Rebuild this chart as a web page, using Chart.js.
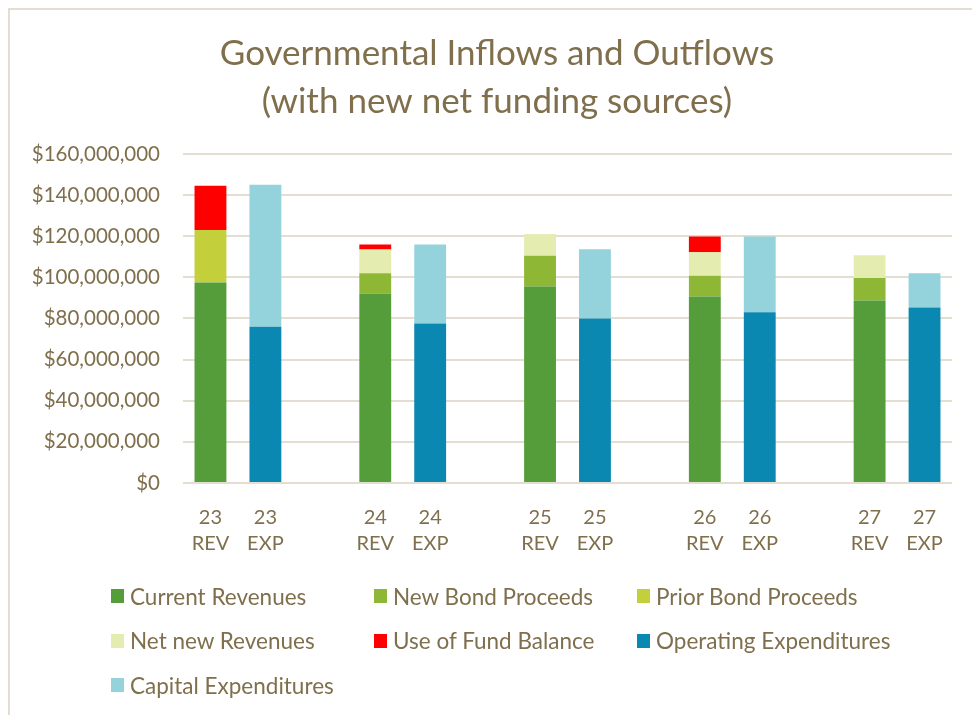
<!DOCTYPE html>
<html>
<head>
<meta charset="utf-8">
<title>Governmental Inflows and Outflows</title>
<script src="https://cdn.jsdelivr.net/npm/chart.js@4.4.1/dist/chart.umd.min.js"></script>
<style>
  html, body { margin: 0; padding: 0; background: #fff; overflow: hidden; }
  #wrap { position: relative; width: 972px; height: 715px; }
  #frame {
    position: absolute; left: 8px; top: 8px; width: 1000px; height: 800px;
    border-left: 2px solid #e3ded1; border-top: 2px solid #e3ded1;
  }
  #chart { position: absolute; left: 0; top: 0; }
  #legend {
    position: absolute; left: 111px; top: 574px;
    display: grid; grid-template-columns: 263px 263px 263px; grid-auto-rows: 44.5px;
    font-family: Lato, sans-serif; font-size: 22.5px; color: #7f6f4c;
  }
  #legend .item { display: flex; align-items: center; white-space: nowrap; }
  #legend .box { width: 13px; height: 14px; margin-right: 6px; flex: none; }
</style>
</head>
<body>
<div id="wrap">
  <div id="frame"></div>
  <canvas id="chart" width="972" height="715"></canvas>
  <div id="legend"></div>
</div>
<script>
// categorias (vazias = espaço entre os anos)
const categories = ['23 REV', '23 EXP', '', '24 REV', '24 EXP', '', '25 REV', '25 EXP', '', '26 REV', '26 EXP', '', '27 REV', '27 EXP'];

// valores (dólares)
const currentRevenues    = [97500000, null, null, 92000000, null, null, 95500000, null, null, 90700000, null, null, 88700000, null];
const newBondProceeds    = [0, null, null, 10000000, null, null, 15000000, null, null, 10000000, null, null, 11000000, null];
const priorBondProceeds  = [25500000, null, null, 0, null, null, 0, null, null, 0, null, null, 0, null];
const netNewRevenues     = [0, null, null, 11500000, null, null, 10500000, null, null, 11500000, null, null, 11000000, null];
const useOfFundBalance   = [21500000, null, null, 2500000, null, null, 0, null, null, 7700000, null, null, 0, null];
const operatingExpend    = [null, 76000000, null, null, 77500000, null, null, 80000000, null, null, 83000000, null, null, 85300000];
const capitalExpend      = [null, 69000000, null, null, 38500000, null, null, 33700000, null, null, 36800000, null, null, 16700000];

const yTicks = [0, 20000000, 40000000, 60000000, 80000000, 100000000, 120000000, 140000000, 160000000];

const textColor = '#7f6f4c';
const gridColor = '#e3ded1';

const series = [
  { label: 'Current Revenues', data: currentRevenues, color: '#559d3a' },
  { label: 'New Bond Proceeds', data: newBondProceeds, color: '#8db735' },
  { label: 'Prior Bond Proceeds', data: priorBondProceeds, color: '#c3cf3b' },
  { label: 'Net new Revenues', data: netNewRevenues, color: '#e5ecb0' },
  { label: 'Use of Fund Balance', data: useOfFundBalance, color: '#ff0000' },
  { label: 'Operating Expenditures', data: operatingExpend, color: '#0b88b1' },
  { label: 'Capital Expenditures', data: capitalExpend, color: '#95d3dc' }
];

// desloca o título um pouco para a direita (centrado como no original)
const titleShift = {
  id: 'titleShift',
  afterLayout(chart) {
    const t = chart.titleBlock;
    if (t) { t.left += 16; t.right += 16; }
  }
};

const ctx = document.getElementById('chart');
const chart = new Chart(ctx, {
  type: 'bar',
  data: {
    labels: categories.map(c => c ? c.split(' ') : ''),
    datasets: series.map(s => ({
      label: s.label,
      data: s.data,
      backgroundColor: s.color,
      stack: 'a',
      barPercentage: 0.58,
      categoryPercentage: 1
    }))
  },
  options: {
    responsive: false,
    animation: false,
    layout: { padding: { left: 10, right: 20, top: 0, bottom: 159 } },
    plugins: {
      legend: { display: false },
      tooltip: { enabled: false },
      title: {
        display: true,
        text: ['Governmental Inflows and Outflows', '(with new net funding sources)'],
        color: textColor,
        font: { family: 'Lato, sans-serif', size: 35, weight: 'normal', lineHeight: 1.37 },
        padding: { top: 30, bottom: 28 }
      }
    },
    scales: {
      x: {
        stacked: true,
        grid: { display: false, drawTicks: false },
        border: { display: false },
        ticks: {
          color: textColor,
          padding: 22,
          maxRotation: 0,
          autoSkip: false,
          font: { family: 'Lato, sans-serif', size: 20, lineHeight: 1.3 }
        },
        afterFit: scale => { scale.height = 73; }
      },
      y: {
        stacked: true,
        min: 0,
        max: 160000000,
        afterBuildTicks: scale => { scale.ticks = yTicks.map(v => ({ value: v })); },
        grid: { color: gridColor, lineWidth: 2, drawTicks: false },
        border: { display: false },
        ticks: {
          color: textColor,
          padding: 23,
          font: { family: 'Lato, sans-serif', size: 20.5 },
          callback: v => '$' + v.toLocaleString('en-US')
        },
        afterFit: scale => { scale.width = 173; }
      }
    }
  },
  plugins: [titleShift]
});

// legenda em 3 colunas
const legendEl = document.getElementById('legend');
chart.data.datasets.forEach(ds => {
  const item = document.createElement('div');
  item.className = 'item';
  const box = document.createElement('span');
  box.className = 'box';
  box.style.background = ds.backgroundColor;
  const txt = document.createElement('span');
  txt.textContent = ds.label;
  item.appendChild(box);
  item.appendChild(txt);
  legendEl.appendChild(item);
});
</script>
</body>
</html>
